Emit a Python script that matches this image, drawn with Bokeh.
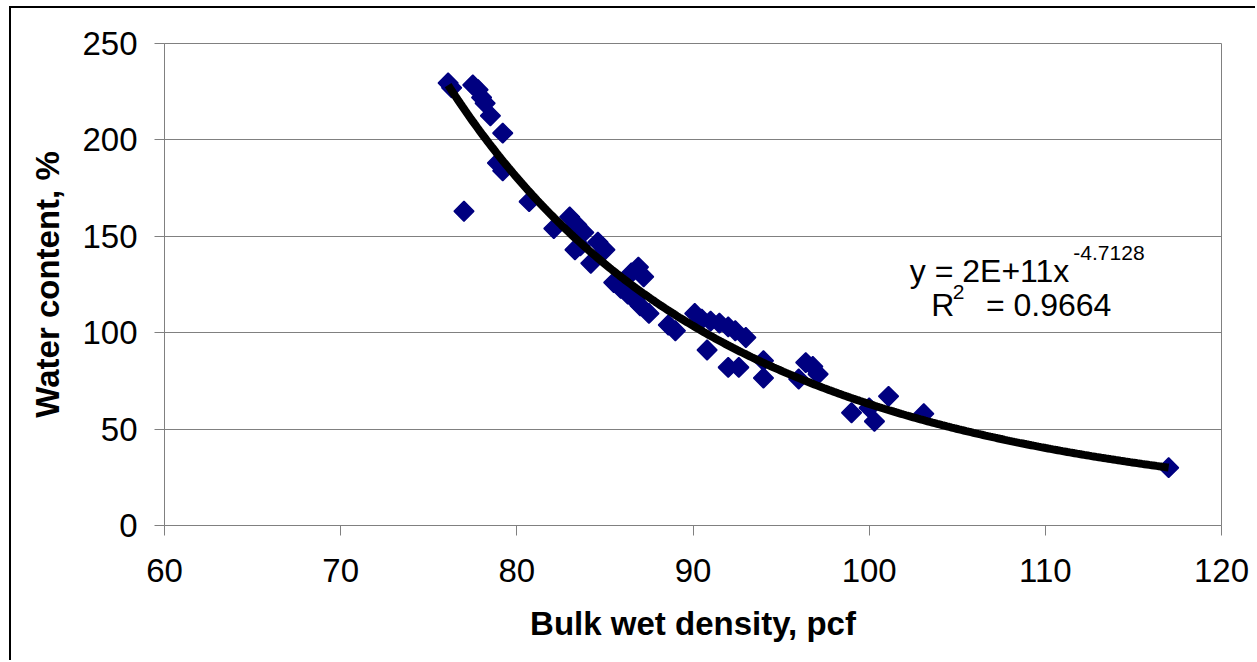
import numpy as np
from bokeh.plotting import figure
from bokeh.models import ColumnDataSource, Label, FixedTicker, Range1d
from bokeh.embed import file_html
from bokeh.resources import INLINE

# ---- data ----
density = [76.1, 76.3, 77.5, 77.8, 78.0, 78.2, 78.5, 79.2, 78.9, 79.2,
           77.0, 80.7, 82.1, 83.0, 83.4, 83.8, 83.3, 83.6, 84.2, 84.6,
           85.0, 85.5, 85.9, 86.3, 86.7, 87.0, 87.5, 86.5, 86.9, 87.2,
           88.6, 89.0, 90.1, 90.5, 91.0, 91.5, 92.0, 92.4, 93.0, 90.8,
           92.0, 92.6, 94.0, 94.0, 96.0, 96.4, 96.8, 97.1, 99.0, 100.0,
           100.3, 101.1, 103.1, 117.0]
water = [229.5, 227.0, 228.5, 226.0, 222.0, 219.0, 212.5, 203.5, 188.0, 184.0,
         163.0, 168.0, 154.0, 160.0, 156.0, 152.0, 143.0, 145.0, 136.0, 147.0,
         143.0, 126.0, 123.0, 120.0, 117.0, 114.0, 110.0, 131.0, 134.0, 129.0,
         104.0, 101.0, 110.0, 107.0, 106.0, 105.0, 103.0, 101.0, 97.5, 91.0,
         82.0, 82.0, 85.5, 76.5, 76.0, 84.5, 82.5, 78.5, 58.5, 61.0,
         54.0, 67.0, 58.0, 30.0]

# power trendline y = A * x^b (as reported by the chart)
trend_coef = 1.68e11
trend_exp = -4.7128

x_ticks = [60, 70, 80, 90, 100, 110, 120]
y_ticks = [0, 50, 100, 150, 200, 250]

FONT = "Liberation Sans"
NAVY = "#000080"
GRAY = "#808080"

p = figure(frame_width=1057, frame_height=482,
           min_border_left=155, min_border_right=34,
           min_border_top=37, min_border_bottom=135,
           x_range=Range1d(60, 120), y_range=Range1d(0, 250),
           output_backend="svg", toolbar_location=None)

p.styles = {"box-shadow": "inset 2px 2px 0 0 #000000",
            "margin-left": "9px", "margin-top": "6px"}
p.border_fill_color = None
p.background_fill_color = "white"
p.outline_line_color = GRAY
p.outline_line_width = 1

# trendline
tx = np.linspace(min(density), max(density), 300)
ty = trend_coef * tx ** trend_exp

src = ColumnDataSource(dict(x=density, y=water))
p.scatter("x", "y", source=src, marker="square", size=14, angle=np.pi / 4,
          fill_color=NAVY, line_color=NAVY, line_width=1.5)
p.line(tx, ty, line_color="black", line_width=8)

# axes
p.xaxis.ticker = FixedTicker(ticks=x_ticks)
p.yaxis.ticker = FixedTicker(ticks=y_ticks)
for ax in (p.xaxis[0], p.yaxis[0]):
    ax.axis_line_color = GRAY
    ax.major_tick_line_color = GRAY
    ax.major_tick_in = 0
    ax.major_tick_out = 10
    ax.minor_tick_line_color = None
    ax.major_label_text_font = FONT
    ax.major_label_text_font_size = "33px"
    ax.major_label_text_color = "black"
    ax.axis_label_text_font = FONT
    ax.axis_label_text_font_size = "33px"
    ax.axis_label_text_font_style = "bold"
    ax.axis_label_text_color = "black"

p.xaxis.axis_label = "Bulk wet density, pcf"
p.yaxis.axis_label = "Water content, %"
p.xaxis.major_label_standoff = 23
p.yaxis.major_label_standoff = 17
p.xaxis.axis_label_standoff = 20
p.yaxis.axis_label_standoff = 13

p.xgrid.grid_line_color = None
p.ygrid.grid_line_color = GRAY
p.ygrid.grid_line_width = 1

# equation annotation
eq_main = "y = 2E+11x"
eq_sup = "-4.7128"
r2_main = "R"
r2_sup = "2"
r2_rest = "= 0.9664"
EQ_SIZE = "32px"
SUP_SIZE = "21px"
p.add_layout(Label(x=111.36, y=131.9, text=eq_main, text_font=FONT,
                   text_font_size=EQ_SIZE, text_align="right",
                   text_baseline="alphabetic", text_color="black"))
p.add_layout(Label(x=111.59, y=141.2, text=eq_sup, text_font=FONT,
                   text_font_size=SUP_SIZE, text_align="left",
                   text_baseline="alphabetic", text_color="black"))
p.add_layout(Label(x=103.52, y=114.2, text=r2_main, text_font=FONT,
                   text_font_size=EQ_SIZE, text_align="left",
                   text_baseline="alphabetic", text_color="black"))
p.add_layout(Label(x=104.75, y=121.3, text=r2_sup, text_font=FONT,
                   text_font_size=SUP_SIZE, text_align="left",
                   text_baseline="alphabetic", text_color="black"))
p.add_layout(Label(x=113.75, y=114.2, text=r2_rest, text_font=FONT,
                   text_font_size=EQ_SIZE, text_align="right",
                   text_baseline="alphabetic", text_color="black"))

open("out.html", "w").write(file_html(p, INLINE))
